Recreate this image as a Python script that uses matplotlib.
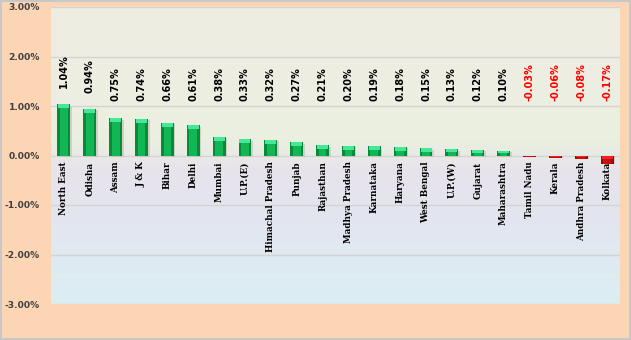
import numpy as np
import matplotlib
matplotlib.use("Agg")
import matplotlib.pyplot as plt
from matplotlib.colors import LinearSegmentedColormap

categories = ["North East", "Odisha", "Assam", "J & K", "Bihar", "Delhi", "Mumbai",
              "U.P.(E)", "Himachal Pradesh", "Punjab", "Rajasthan", "Madhya Pradesh",
              "Karnataka", "Haryana", "West Bengal", "U.P.(W)", "Gujarat", "Maharashtra",
              "Tamil Nadu", "Kerala", "Andhra Pradesh", "Kolkata"]
values = [1.04, 0.94, 0.75, 0.74, 0.66, 0.61, 0.38, 0.33, 0.32, 0.27, 0.21, 0.20,
          0.19, 0.18, 0.15, 0.13, 0.12, 0.10, -0.03, -0.06, -0.08, -0.17]
yticks = [3, 2, 1, 0, -1, -2, -3]
ytick_labels = ["3.00%", "2.00%", "1.00%", "0.00%", "-1.00%", "-2.00%", "-3.00%"]

fig = plt.figure(figsize=(6.31, 3.40), dpi=100)
fig.patch.set_facecolor("#FCD5B5")
fig.patch.set_edgecolor("#C8C8C8")
fig.patch.set_linewidth(1.5)

ax = fig.add_axes([51/631, 1 - 304/340, (620 - 51)/631, (304 - 7)/340])
ax.set_xlim(-0.5, len(categories) - 0.5)
ax.set_ylim(-3, 3)

# gradient background
cmap = LinearSegmentedColormap.from_list(
    "bg", [(0.0, "#DCEEF3"), (0.30, "#E3E5EF"), (0.45, "#E7E3EC"),
           (0.55, "#EAF0DF"), (0.75, "#EDEEE2"), (1.0, "#EEEDE2")])
grad = np.linspace(0, 1, 256).reshape(-1, 1)
ax.imshow(grad, cmap=cmap, aspect="auto", origin="lower",
          extent=(-0.5, len(categories) - 0.5, -3, 3), zorder=0)
for s in ax.spines.values():
    s.set_visible(False)

for t in yticks:
    ax.axhline(t, color="#D4D4D4", lw=1.0, zorder=1)

x = np.arange(len(categories))
w = 0.5
for xi, v in zip(x, values):
    pos = v >= 0
    dark = "#078A3A" if pos else "#A00808"
    face = "#12B655" if pos else "#C81010"
    cap = "#45E899" if pos else "#F22222"
    # shadow
    ax.bar(xi + 0.06, v, width=w, bottom=-0.03 if pos else 0.0,
           color="#BDBDB2", alpha=0.6, zorder=2, linewidth=0)
    ax.bar(xi, v, width=w, color=dark, linewidth=0, zorder=3)
    ax.bar(xi, v, width=w * 0.6, color=face, linewidth=0, zorder=3.5)
    capsize = min(0.08, abs(v) * 0.5)
    ax.bar(xi, -capsize, bottom=v if pos else 0.0,
           width=w * 0.85, color=cap, linewidth=0, zorder=4)
    ly = max(1.1, v + 0.32)
    ax.text(xi, ly, f"{v:.2f}%", rotation=90, ha="center", va="bottom",
            fontsize=7, fontweight="bold", family="DejaVu Sans",
            color="black" if pos else "#FF0000", zorder=5)
    ax.text(xi, -0.12, categories[xi], rotation=90,
            ha="center", va="top", fontsize=6.3, fontweight="bold",
            family="DejaVu Serif", color="black", zorder=5)

ax.set_xticks([])
ax.set_yticks(yticks)
ax.set_yticklabels(ytick_labels, fontsize=6.6, fontweight="bold",
                   family="DejaVu Sans", color="#404040")
ax.tick_params(axis="y", length=0, pad=8)

fig.savefig("out.png", dpi=100, facecolor=fig.get_facecolor(), edgecolor=fig.get_edgecolor())
